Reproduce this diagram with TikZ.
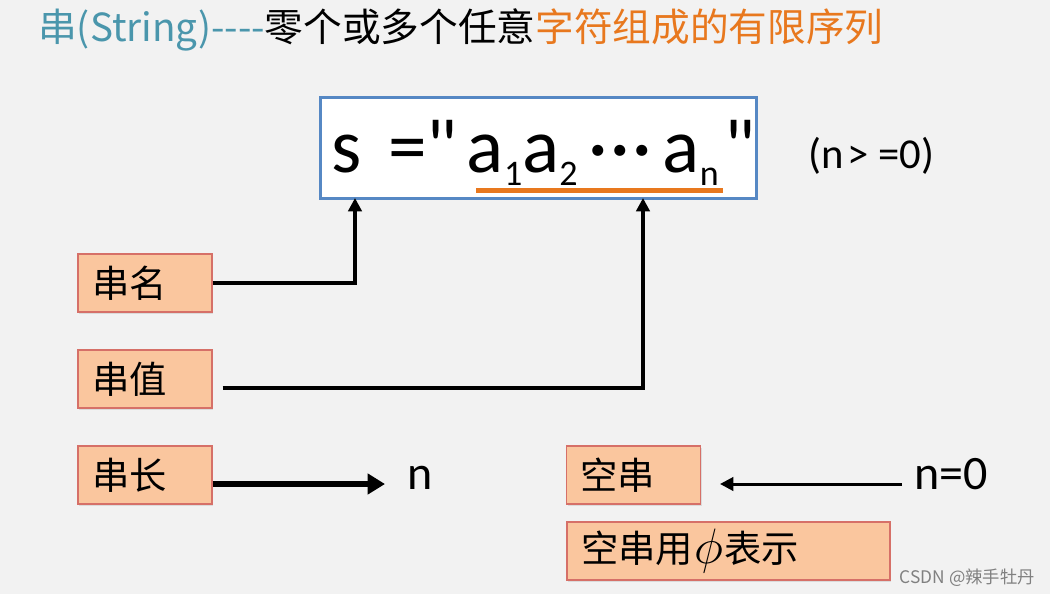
\documentclass[tikz,border=0pt]{standalone}
\usepackage{fontspec}
\setmainfont{Carlito}
\newfontfamily\plainfont{Carlito}
\newfontfamily\cjkfont{Noto Sans CJK SC}
\usetikzlibrary{arrows.meta, positioning, shadows}
\definecolor{PageGray}{RGB}{242,242,242}
\definecolor{TitleTeal}{RGB}{74,150,172}
\definecolor{TitleOrange}{RGB}{232,120,30}
\definecolor{BoxFill}{RGB}{250,198,158}
\definecolor{BoxEdge}{RGB}{214,112,104}
\definecolor{FrameBlue}{RGB}{86,136,196}
\newcommand{\subidx}[1]{\raisebox{-10pt}{\fontsize{27}{30}\selectfont #1}}
\newcommand{\dq}{{\plainfont\symbol{"22}}}

\begin{document}
\begin{tikzpicture}[x=0.75pt,y=-0.75pt,
    part/.style={draw=BoxEdge,fill=BoxFill,line width=1pt,
                 drop shadow={opacity=0.2,shadow xshift=0.8pt,shadow yshift=-1.2pt},
                 font=\cjkfont\fontsize{28}{30}\selectfont,
                 text width=79.5pt,align=left,inner xsep=10.5pt,
                 minimum height=43.5pt,inner ysep=0pt},
    conn/.style={-{Triangle[length=10pt,width=10pt]},line width=3pt},
    lbl/.style={font=\fontsize{36}{40}\selectfont,inner sep=0pt}
  ]
  \fill[PageGray] (0,0) rectangle (1050,594);

  % title
  \node[anchor=base west,inner sep=0pt,font=\cjkfont\fontsize{29}{32}\selectfont]
    (title) at (38,41)
    {\textcolor{TitleTeal}{串(String)----}零个或多个任意\textcolor{TitleOrange}{字符组成的有限序列}};

  % the string
  \node[draw=FrameBlue,fill=white,line width=2.25pt,
        minimum width=327pt,minimum height=75.75pt] (str) at (538,147.5) {};
  \node[anchor=base west,inner sep=0pt,font=\fontsize{58}{60}\selectfont]
    (expr) at (331,172)
    {s\kern20pt=\kern0pt\dq\kern7pt a\subidx{1}a\subidx{2}\kern8pt\textperiodcentered\kern2pt\textperiodcentered\kern2pt\textperiodcentered\kern8pt a\subidx{n}\kern4pt\dq};
  \draw[TitleOrange,line width=3.75pt] (476,190) -- (723,190);
  \node[anchor=base west,inner sep=0pt,font=\fontsize{32}{34}\selectfont]
    (cond) at (808,168) {(n\kern3pt>\kern7pt=0)};
  \coordinate (sname) at (355,198);
  \coordinate (sval) at (643,198);

  % parts
  \node[part] (name) at (145,283) {串名};
  \node[part] (val)  at (145,379) {串值};
  \node[part] (len)  at (145,475) {串长};
  \node[part] (empty) at (633.5,475) {空串};
  \node[part,text width=221.25pt] (phi) at (728.5,551) {空串用\kern1pt\raisebox{-1pt}{\scalebox{1.5}{$\phi$}}\kern1pt表示};

  \node[lbl,anchor=base west] (n)  at (407,489) {n};
  \node[lbl,anchor=base west] (n0) at (914,489) {n=0};
  \coordinate (vrow) at (0,388);
  \coordinate (ntip) at (385,484);
  \coordinate (etip) at (720,484);

  \draw[conn] (name.east) -| (sname);
  \draw[conn,shorten <=7.5pt] (val.east |- vrow) -| (sval);
  \draw[-{Triangle[length=13pt,width=15pt]},line width=4.5pt] (len.east |- ntip) -- (ntip);
  \draw[-{Triangle[length=10pt,width=10pt]},line width=2.25pt,shorten <=9pt] (n0.west |- etip) -- (etip);

  \node[anchor=base east,inner sep=0pt,text=gray,font=\cjkfont\fontsize{13}{15}\selectfont]
    (mark) at (1035,583) {CSDN @辣手牡丹};
\end{tikzpicture}
\end{document}
